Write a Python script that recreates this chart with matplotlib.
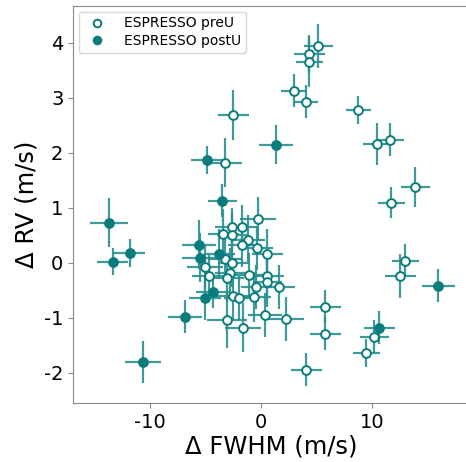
import matplotlib.pyplot as plt
from matplotlib.lines import Line2D

plt.rcParams['axes.unicode_minus'] = False

# ESPRESSO preU (open markers)
pre_fwhm = [5.14, 4.32, 4.32, 2.97, 4.05, 8.74, 11.62, 10.45, 13.87, 11.71,
            -2.52, -3.24, 12.97, 12.52, -0.27, -3.42, -2.61, -1.71, -2.61, -1.17,
            -1.71, -0.36, 0.54, -3.24, -2.61, -5.05, -4.68, -2.79, -3.06, -1.08,
            0.54, -0.45, 0.54, 1.62, -2.52, -1.98, -0.63, -3.06, -1.62, 0.36,
            2.25, 5.77, 5.77, 4.05, 10.18, 9.46]
pre_rv = [3.95, 3.80, 3.65, 3.13, 2.93, 2.78, 2.24, 2.16, 1.38, 1.09,
          2.69, 1.82, 0.04, -0.24, 0.80, 0.53, 0.65, 0.65, 0.51, 0.42,
          0.33, 0.27, 0.16, 0.07, 0.00, -0.07, -0.24, -0.18, -0.27, -0.22,
          -0.25, -0.44, -0.36, -0.44, -0.60, -0.64, -0.62, -1.05, -1.18, -0.95,
          -1.02, -0.80, -1.29, -1.95, -1.35, -1.64]
pre_fwhm_err = [1.3, 1.4, 1.2, 1.2, 1.1, 1.1, 1.2, 1.3, 1.3, 1.2,
                1.4, 1.5, 1.2, 1.4, 1.6, 1.4, 1.5, 1.3, 1.4, 1.5,
                1.3, 1.4, 1.4, 1.5, 1.3, 1.6, 1.5, 1.4, 1.5, 1.3,
                1.5, 1.4, 1.3, 1.4, 1.5, 1.4, 1.5, 1.8, 1.6, 1.5,
                1.6, 1.4, 1.4, 1.4, 1.3, 1.2]
pre_rv_err = [0.40, 0.35, 0.45, 0.30, 0.30, 0.26, 0.30, 0.38, 0.36, 0.28,
              0.45, 0.45, 0.30, 0.40, 0.40, 0.45, 0.35, 0.40, 0.40, 0.45,
              0.40, 0.40, 0.45, 0.40, 0.45, 0.40, 0.40, 0.45, 0.45, 0.40,
              0.45, 0.40, 0.45, 0.40, 0.45, 0.40, 0.45, 0.50, 0.45, 0.40,
              0.40, 0.30, 0.30, 0.30, 0.30, 0.25]

# ESPRESSO postU (filled markers)
post_fwhm = [-4.86, -3.51, -13.69, -11.80, -13.33, -5.59, -5.50, -3.78, -4.32, -5.05,
             -6.85, -10.63, 1.35, 10.63, 15.95]
post_rv = [1.87, 1.13, 0.73, 0.18, 0.02, 0.33, 0.09, 0.16, -0.53, -0.64,
           -0.98, -1.80, 2.15, -1.18, -0.42]
post_fwhm_err = [1.4, 1.3, 1.7, 1.4, 1.4, 1.5, 1.6, 1.4, 1.5, 1.4,
                 1.5, 1.6, 1.5, 1.4, 1.5]
post_rv_err = [0.25, 0.30, 0.45, 0.25, 0.25, 0.45, 0.45, 0.45, 0.30, 0.40,
               0.30, 0.38, 0.35, 0.30, 0.30]

bar_color = '#2b8f8f'
mark_color = '#0a7c7c'

fig = plt.figure(figsize=(4.66, 4.62), dpi=100)
ax = fig.add_axes([0.157, 0.128, 0.852, 0.859])

ax.errorbar(pre_fwhm, pre_rv, xerr=pre_fwhm_err, yerr=pre_rv_err, fmt='none',
            ecolor=bar_color, elinewidth=1.6, capsize=0, alpha=0.9, zorder=1)
ax.errorbar(post_fwhm, post_rv, xerr=post_fwhm_err, yerr=post_rv_err, fmt='none',
            ecolor=bar_color, elinewidth=1.6, capsize=0, alpha=0.9, zorder=1)
ax.plot(pre_fwhm, pre_rv, 'o', ms=6.3, mfc='white', mec=mark_color, mew=1.4,
        linestyle='none', zorder=3)
ax.plot(post_fwhm, post_rv, 'o', ms=6.3, mfc=mark_color, mec=mark_color, mew=1.4,
        linestyle='none', zorder=3)

handles = [Line2D([], [], marker='o', ms=5.5, mfc='white', mec=mark_color, mew=1.4, ls='none'),
           Line2D([], [], marker='o', ms=5.5, mfc=mark_color, mec=mark_color, mew=1.4, ls='none')]
ax.legend(handles, ['ESPRESSO preU', 'ESPRESSO postU'], loc='upper left', fontsize=10,
          borderaxespad=0.4, handletextpad=0.9, labelspacing=0.25, borderpad=0.35)

ax.set_xlim(-16.9, 18.8)
ax.set_ylim(-2.55, 4.67)
ax.set_xticks([-10, 0, 10])
ax.set_yticks([-2, -1, 0, 1, 2, 3, 4])
ax.set_xlabel('Δ FWHM (m/s)', fontsize=17.5, labelpad=2)
ax.set_ylabel('Δ RV (m/s)', fontsize=17.5, labelpad=4)
ax.tick_params(labelsize=14, color='#888888')
for s in ax.spines.values():
    s.set_color('#888888')

plt.savefig('out.png', dpi=100)
